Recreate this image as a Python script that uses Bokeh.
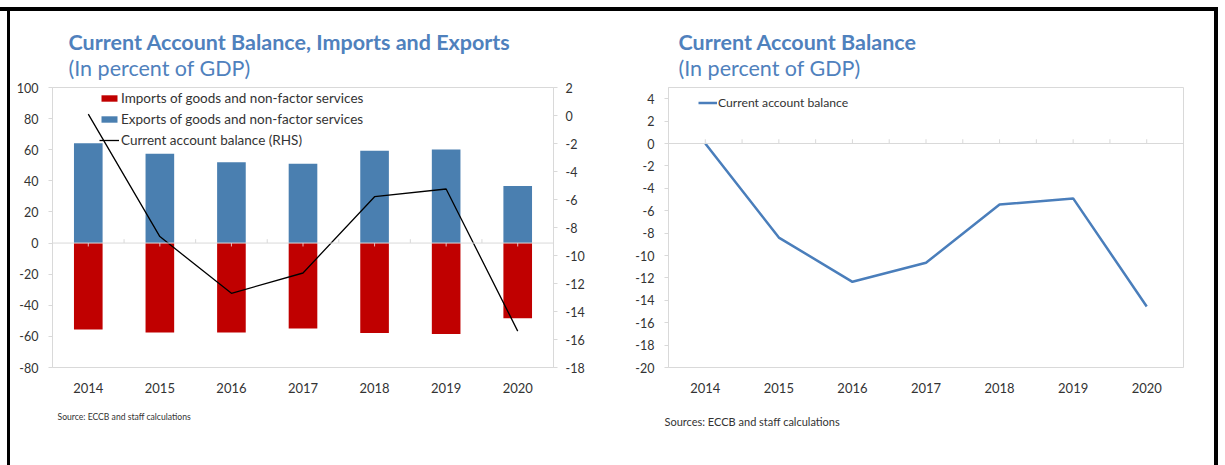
from bokeh.plotting import figure
from bokeh.models import (FactorRange, Range1d, LinearAxis, FixedTicker, Title,
                          Span, Legend, LegendItem, Spacer)
from bokeh.layouts import row, column
from bokeh.embed import file_html
from bokeh.resources import INLINE

# ---- data (percent of GDP) ----
years = ["2014", "2015", "2016", "2017", "2018", "2019", "2020"]
exports = [64.1, 57.4, 52.0, 51.0, 59.3, 60.1, 36.7]
imports = [-55.6, -57.5, -57.5, -55.0, -57.9, -58.4, -48.4]
cab_rhs = [0.1, -8.65, -12.7, -11.25, -5.8, -5.25, -15.4]
cab = [0.0, -8.4, -12.35, -10.65, -5.45, -4.9, -14.55]

left_ticks = list(range(-80, 101, 20))
rhs_ticks = list(range(-18, 3, 2))
right_ticks = list(range(-20, 5, 2))

FONT = "Lato"
TITLE_BLUE = "#4F81BD"
BAR_BLUE = "#4A7FB0"
BAR_RED = "#C00000"
LINE_BLUE = "#4A7EBB"
GRID = "#D9D9D9"
TXT = "#333333"
FIG_H = 454
TITLE_SIZE = "21.5px"


def style_yaxis(ax, ticks):
    ax.ticker = FixedTicker(ticks=ticks)
    ax.major_label_overrides = {t: str(t) for t in ticks}
    ax.axis_line_color = GRID
    ax.major_tick_line_color = GRID
    ax.major_tick_out = 4
    ax.major_tick_in = 0
    ax.minor_tick_line_color = None
    ax.major_label_standoff = 10
    ax.major_label_text_font = FONT
    ax.major_label_text_font_size = "12.5px"
    ax.major_label_text_color = TXT


def style_xaxis(ax, standoff):
    ax.axis_line_color = None
    ax.major_tick_line_color = None
    ax.major_tick_out = 0
    ax.major_tick_in = 0
    ax.minor_tick_line_color = None
    ax.major_label_standoff = standoff
    ax.major_label_text_font = FONT
    ax.major_label_text_font_style = "normal"
    ax.major_label_text_font_size = "13px"
    ax.major_label_text_color = TXT


def add_titles(p, title, offset):
    p.title.text = title
    p.title.align = "left"
    p.title.offset = offset
    p.title.standoff = -18
    p.title.text_font = FONT
    p.title.text_font_size = TITLE_SIZE
    p.title.text_font_style = "bold"
    p.title.text_color = TITLE_BLUE
    p.add_layout(Title(text="(In percent of GDP)", align="left", offset=offset, standoff=14,
                       text_font=FONT, text_font_size=TITLE_SIZE, text_font_style="normal",
                       text_color=TITLE_BLUE), "above")


def add_source(p, text, offset, size, standoff):
    p.add_layout(Title(text=text, align="left", offset=offset, standoff=standoff,
                       text_font=FONT, text_font_size=size, text_font_style="normal",
                       text_color=TXT), "below")


# ---------------- left panel: bars + current account on RHS ----------------
p1 = figure(width=602, height=FIG_H, x_range=FactorRange(factors=years),
            y_range=Range1d(-80, 100), output_backend="svg", toolbar_location=None,
            min_border_left=42, min_border_right=59, min_border_top=74,
            min_border_bottom=98)
p1.extra_y_ranges = {"rhs": Range1d(-18, 2)}
p1.xgrid.grid_line_color = None
p1.ygrid.grid_line_color = None
p1.outline_line_color = GRID

style_yaxis(p1.yaxis[0], left_ticks)
style_xaxis(p1.xaxis[0], 15)
rax = LinearAxis(y_range_name="rhs")
style_yaxis(rax, rhs_ticks)
rax.major_label_standoff = 8
p1.add_layout(rax, "right")

r_imp = p1.vbar(x=years, top=0, bottom=imports, width=0.4, fill_color=BAR_RED, line_color=None)
r_exp = p1.vbar(x=years, top=exports, bottom=0, width=0.4, fill_color=BAR_BLUE, line_color=None)

# category axis through zero with its small tick marks
n = len(years)
p1.add_layout(Span(location=0, dimension="width", line_color=GRID, line_width=1))
p1.segment(x0=list(range(1, n)), x1=list(range(1, n)), y0=[0] * (n - 1), y1=[2.5] * (n - 1),
           line_color=GRID, line_width=1)
p1.segment(x0=[i + 0.5 for i in range(n)], x1=[i + 0.5 for i in range(n)], y0=[0] * n,
           y1=[-2.2] * n, line_color="#E6B8B8", line_width=1)

r_cab1 = p1.line(x=years, y=cab_rhs, y_range_name="rhs", line_color="black", line_width=1.3)

leg1 = Legend(items=[LegendItem(label="Imports of goods and non-factor services", renderers=[r_imp]),
                     LegendItem(label="Exports of goods and non-factor services", renderers=[r_exp]),
                     LegendItem(label="Current account balance (RHS)", renderers=[r_cab1])],
              location=(47, 219), orientation="vertical", padding=0, margin=0, spacing=5,
              glyph_width=20, glyph_height=8, label_height=16, label_standoff=2,
              label_text_font=FONT, label_text_font_size="13.5px", label_text_color=TXT,
              border_line_color=None, background_fill_alpha=0)
p1.add_layout(leg1)

add_titles(p1, "Current Account Balance, Imports and Exports", 16)
add_source(p1, "Source: ECCB and  staff calculations", 5, "8.6px", 28)

# ---------------- right panel: current account balance ----------------
p2 = figure(width=602, height=FIG_H, x_range=FactorRange(factors=years),
            y_range=Range1d(-20, 5), output_backend="svg", toolbar_location=None,
            min_border_left=56, min_border_right=31, min_border_top=76,
            min_border_bottom=96)
p2.xgrid.grid_line_color = None
p2.ygrid.grid_line_color = None
p2.outline_line_color = GRID
style_yaxis(p2.yaxis[0], right_ticks)
style_xaxis(p2.xaxis[0], 15)

p2.add_layout(Span(location=0, dimension="width", line_color=GRID, line_width=1))
half = [i * 0.5 for i in range(1, 2 * n)]
p2.segment(x0=half, x1=half, y0=[0] * len(half), y1=[0.38] * len(half),
           line_color=GRID, line_width=1)

r_cab2 = p2.line(x=years, y=cab, line_color=LINE_BLUE, line_width=2.5)

leg2 = Legend(items=[LegendItem(label="Current account balance", renderers=[r_cab2])],
              location=(30, 257), padding=0, margin=0, glyph_width=19, glyph_height=15,
              label_height=15, label_standoff=1, label_text_font=FONT,
              label_text_font_size="12.2px", label_text_color=TXT,
              border_line_color=None, background_fill_alpha=0)
p2.add_layout(leg2)

add_titles(p2, "Current Account Balance", 10)
add_source(p2, "Sources: ECCB and  staff calculations", -4, "11px", 35)

# ---------------- page frame ----------------
BLACK = {"background-color": "black"}
frame_row = row(Spacer(width=7, height=FIG_H),
                Spacer(width=3, height=FIG_H, styles=BLACK),
                p1, p2,
                Spacer(width=4, height=FIG_H, styles=BLACK),
                Spacer(width=7, height=FIG_H))
layout = column(Spacer(width=1225, height=7),
                Spacer(width=1218, height=4, styles=BLACK),
                frame_row)

open("out.html", "w").write(file_html(layout, INLINE))
